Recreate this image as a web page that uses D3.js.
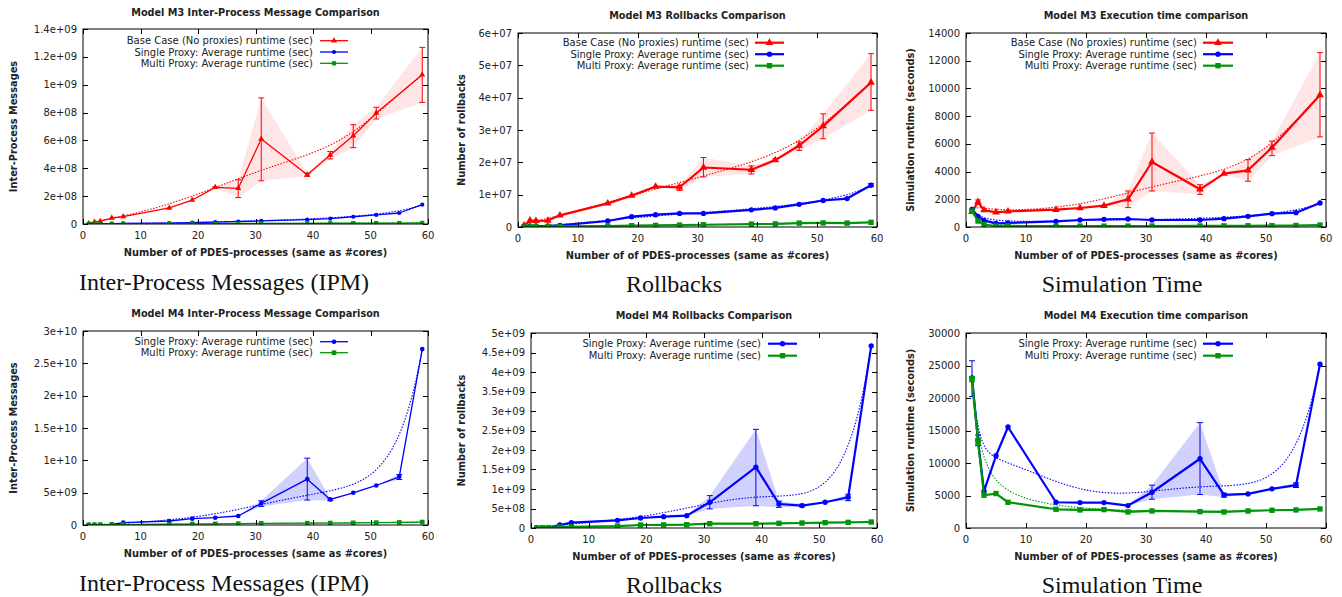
<!DOCTYPE html>
<html>
<head>
<meta charset="utf-8">
<script src="https://cdn.jsdelivr.net/npm/d3@7"></script>
<style>
body { margin: 0; background: #fff; }
svg { display: block; }
text { font-family: "DejaVu Sans", sans-serif; fill: #222; }
.caption { font-family: "Liberation Serif", serif; fill: #111; }
</style>
</head>
<body>
<svg id="chart" width="1342" height="597"></svg>
<script>
// shared x values (number of PDES processes)
var cores = [1, 2, 3, 5, 7, 15, 19, 23, 27, 31, 39, 43, 47, 51, 55, 59]
var xTicks = [0, 10, 20, 30, 40, 50, 60]

var baseName = "Base Case (No proxies) runtime (sec)"
var singleName = "Single Proxy: Average runtime (sec)"
var multiName = "Multi Proxy: Average runtime (sec)"

// Model M3 - inter-process messages
var m3IpmBase = [4e6, 1.5e7, 2e7, 4.3e7, 5.3e7, 1.15e8, 1.72e8, 2.63e8, 2.56e8, 6.1e8, 3.54e8, 4.95e8, 6.34e8, 7.97e8, null, 1.072e9]
var m3IpmBaseLo = [null, null, null, null, null, null, null, 2.6e8, 1.9e8, 3.1e8, 3.42e8, 4.67e8, 5.48e8, 7.54e8, null, 8.73e8]
var m3IpmBaseHi = [null, null, null, null, null, null, null, 2.66e8, 3.18e8, 9.05e8, 3.64e8, 5.2e8, 7.13e8, 8.38e8, null, 1.268e9]
var m3IpmSingle = [1e6, 1.5e6, 2e6, 3e6, 4e6, 7e6, 1e7, 1.4e7, 1.8e7, 2.2e7, 3.1e7, 3.8e7, 5.2e7, 6.5e7, 7.9e7, 1.39e8]
var m3IpmMulti = [5e5, 6e5, 7e5, 1e6, 1.2e6, 2e6, 2.5e6, 3e6, 3.5e6, 4e6, 5e6, 5.5e6, 6e6, 6.5e6, 7e6, 8e6]
var m3IpmTicks = [0, 2e8, 4e8, 6e8, 8e8, 1e9, 1.2e9, 1.4e9]
var m3IpmTickLabels = ["0", "2e+08", "4e+08", "6e+08", "8e+08", "1e+09", "1.2e+09", "1.4e+09"]

// Model M3 - rollbacks
var m3RbBase = [5e5, 2.0e6, 1.9e6, 2.0e6, 3.6e6, 7.3e6, 9.7e6, 1.25e7, 1.23e7, 1.84e7, 1.77e7, 2.07e7, 2.52e7, 3.12e7, null, 4.47e7]
var m3RbBaseLo = [null, null, null, null, null, null, null, null, 1.13e7, 1.55e7, 1.64e7, 2.03e7, 2.37e7, 2.73e7, null, 3.61e7]
var m3RbBaseHi = [null, null, null, null, null, null, null, null, 1.29e7, 2.15e7, 1.89e7, 2.11e7, 2.63e7, 3.5e7, null, 5.36e7]
var m3RbSingle = [1e5, 3e5, 3e5, 3e5, 5e5, 1.85e6, 3.2e6, 3.8e6, 4.2e6, 4.2e6, 5.3e6, 5.9e6, 7.0e6, 8.2e6, 8.8e6, 1.29e7]
var m3RbSingleLo = [null, null, null, null, null, null, null, null, null, null, null, null, null, null, null, 1.25e7]
var m3RbSingleHi = [null, null, null, null, null, null, null, null, null, null, null, null, null, null, null, 1.34e7]
var m3RbMulti = [0, 5e4, 1e5, 1e5, 2e5, 3e5, 4e5, 5e5, 6e5, 7e5, 9e5, 9.5e5, 1.2e6, 1.25e6, 1.2e6, 1.45e6]
var m3RbTicks = [0, 1e7, 2e7, 3e7, 4e7, 5e7, 6e7]
var m3RbTickLabels = ["0", "1e+07", "2e+07", "3e+07", "4e+07", "5e+07", "6e+07"]

// Model M3 - execution time
var m3TimeBase = [1100, 1800, 1220, 1060, 1130, 1250, 1370, 1540, 2000, 4690, 2720, 3850, 4090, 5730, null, 9530]
var m3TimeBaseLo = [null, 1650, null, null, null, null, null, null, 1400, 2600, 2360, null, 3300, 5150, null, 6500]
var m3TimeBaseHi = [null, 1950, null, null, null, null, null, null, 2600, 6780, 3050, null, 4860, 6200, null, 12580]
var m3TimeSingle = [1270, 770, 480, 265, 290, 410, 505, 553, 577, 505, 505, 600, 770, 960, 1034, 1730]
var m3TimeMulti = [1150, 430, 170, 70, 70, 60, 60, 60, 65, 70, 75, 80, 90, 100, 110, 140]
var m3TimeTicks = [0, 2000, 4000, 6000, 8000, 10000, 12000, 14000]
var m3TimeTickLabels = ["0", "2000", "4000", "6000", "8000", "10000", "12000", "14000"]

// Model M4 - inter-process messages
var m4IpmSingle = [1e7, 2e7, 3e7, 1e8, 3.6e8, 6.2e8, 9.8e8, 1.13e9, 1.39e9, 3.34e9, 7.09e9, 3.96e9, 4.98e9, 6.11e9, 7.45e9, 2.72e10]
var m4IpmSingleLo = [null, null, null, null, null, null, null, null, null, 2.88e9, 3.85e9, 3.75e9, null, null, 7.04e9, null]
var m4IpmSingleHi = [null, null, null, null, null, null, null, null, null, 3.75e9, 1.033e10, 4.1e9, null, null, 7.8e9, null]
var m4IpmMulti = [2e7, 3e7, 4e7, 5e7, 7e7, 1.2e8, 1.5e8, 1.7e8, 2e8, 2.5e8, 2.8e8, 3e8, 3.3e8, 3.7e8, 4e8, 4.6e8]
var m4IpmTicks = [0, 5e9, 1e10, 1.5e10, 2e10, 2.5e10, 3e10]
var m4IpmTickLabels = ["0", "5e+09", "1e+10", "1.5e+10", "2e+10", "2.5e+10", "3e+10"]

// Model M4 - rollbacks
var m4RbSingle = [5e6, 1e7, 1e7, 7.7e7, 1.37e8, 1.97e8, 2.57e8, 2.9e8, 3.17e8, 6.6e8, 1.56e9, 6.16e8, 5.74e8, 6.6e8, 7.88e8, 4.67e9]
var m4RbSingleLo = [null, null, null, null, null, null, null, null, null, 4.9e8, 5.7e8, 5.3e8, 5.4e8, null, 7.0e8, null]
var m4RbSingleHi = [null, null, null, null, null, null, null, null, null, 8.3e8, 2.53e9, 6.9e8, 6.1e8, null, 8.65e8, null]
var m4RbMulti = [5e6, 8e6, 1e7, 2e7, 3e7, 5e7, 7.7e7, 8e7, 8.5e7, 1.1e8, 1.1e8, 1.2e8, 1.28e8, 1.37e8, 1.45e8, 1.54e8]
var m4RbTicks = [0, 5e8, 1e9, 1.5e9, 2e9, 2.5e9, 3e9, 3.5e9, 4e9, 4.5e9, 5e9]
var m4RbTickLabels = ["0", "5e+08", "1e+09", "1.5e+09", "2e+09", "2.5e+09", "3e+09", "3.5e+09", "4e+09", "4.5e+09", "5e+09"]

// Model M4 - execution time
var m4TimeSingle = [23100, 13530, 5660, 11110, 15540, 3960, 3910, 3910, 3450, 5500, 10650, 5090, 5250, 6020, 6590, 25210]
var m4TimeSingleLo = [20220, 12650, null, null, null, null, null, null, null, 4430, 5150, 4750, null, null, 6230, null]
var m4TimeSingleHi = [25730, 14300, null, null, null, null, null, null, null, 6590, 16210, 5350, null, null, 6950, null]
var m4TimeMulti = [22900, 13280, 5040, 5300, 3960, 2880, 2780, 2830, 2470, 2620, 2520, 2470, 2620, 2730, 2780, 2930]
var m4TimeMultiLo = [22490, 12800, null, null, null, null, null, null, null, null, null, null, null, null, null, null]
var m4TimeMultiHi = [23300, 13800, null, null, null, null, null, null, null, null, null, null, null, null, null, null]
var m4TimeTicks = [0, 5000, 10000, 15000, 20000, 25000, 30000]
var m4TimeTickLabels = ["0", "5000", "10000", "15000", "20000", "25000", "30000"]

var RED = "#ff0000", BLUE = "#0000ff", GREEN = "#00960a"
var FILL = { red: "rgba(255,0,0,0.10)", blue: "rgba(0,0,255,0.18)", green: "rgba(0,150,10,0.15)" }

function base(values, lo, hi) { return { name: baseName, color: RED, fill: FILL.red, shape: d3.symbolTriangle, values: values, lo: lo, hi: hi } }
function single(values, lo, hi) { return { name: singleName, color: BLUE, fill: FILL.blue, shape: d3.symbolCircle, values: values, lo: lo, hi: hi } }
function multi(values, lo, hi) { return { name: multiName, color: GREEN, fill: FILL.green, shape: d3.symbolSquare, values: values, lo: lo, hi: hi } }

var panels = [
  {
    title: "Model M3 Inter-Process Message Comparison", ylabel: "Inter-Process Messages", caption: "Inter-Process Messages (IPM)",
    box: [83, 428, 29, 224], yTicks: m3IpmTicks, yLabels: m3IpmTickLabels,
    series: [base(m3IpmBase, m3IpmBaseLo, m3IpmBaseHi), single(m3IpmSingle), multi(m3IpmMulti)],
    lw: 1.3, ms: 1, legend: [313, 40.7, 11.3, 320, 348],
    titleY: 16, xlabelY: 256, ylabelX: 14, captionX: 224, captionY: 290
  },
  {
    title: "Model M3 Rollbacks Comparison", ylabel: "Number of rollbacks", caption: "Rollbacks",
    box: [518, 877, 33, 227], yTicks: m3RbTicks, yLabels: m3RbTickLabels,
    series: [base(m3RbBase, m3RbBaseLo, m3RbBaseHi), single(m3RbSingle, m3RbSingleLo, m3RbSingleHi), multi(m3RbMulti)],
    lw: 2.2, ms: 1.6, legend: [749, 42.7, 11.5, 755, 784],
    titleY: 19, xlabelY: 259, ylabelX: 462, captionX: 674, captionY: 292
  },
  {
    title: "Model M3 Execution time comparison", ylabel: "Simulation runtime (seconds)", caption: "Simulation Time",
    box: [966, 1326, 33, 227], yTicks: m3TimeTicks, yLabels: m3TimeTickLabels,
    series: [base(m3TimeBase, m3TimeBaseLo, m3TimeBaseHi), single(m3TimeSingle), multi(m3TimeMulti)],
    lw: 2.2, ms: 1.6, legend: [1197, 42.7, 11.5, 1203, 1233],
    titleY: 19, xlabelY: 259, ylabelX: 911, captionX: 1122, captionY: 292
  },
  {
    title: "Model M4 Inter-Process Message Comparison", ylabel: "Inter-Process Messages", caption: "Inter-Process Messages (IPM)",
    box: [83, 428, 331, 525], yTicks: m4IpmTicks, yLabels: m4IpmTickLabels,
    series: [single(m4IpmSingle, m4IpmSingleLo, m4IpmSingleHi), multi(m4IpmMulti)],
    lw: 1.3, ms: 1.2, legend: [313, 341.7, 11, 320, 348],
    titleY: 317, xlabelY: 557, ylabelX: 14, captionX: 224, captionY: 591
  },
  {
    title: "Model M4 Rollbacks Comparison", ylabel: "Number of rollbacks", caption: "Rollbacks",
    box: [531, 877, 333, 528], yTicks: m4RbTicks, yLabels: m4RbTickLabels,
    series: [single(m4RbSingle, m4RbSingleLo, m4RbSingleHi), multi(m4RbMulti)],
    lw: 2.2, ms: 1.6, legend: [761, 343.7, 12, 768, 797],
    titleY: 319, xlabelY: 560, ylabelX: 462, captionX: 674, captionY: 593
  },
  {
    title: "Model M4 Execution time comparison", ylabel: "Simulation runtime (seconds)", caption: "Simulation Time",
    box: [966, 1326, 333, 528], yTicks: m4TimeTicks, yLabels: m4TimeTickLabels,
    series: [single(m4TimeSingle, m4TimeSingleLo, m4TimeSingleHi), multi(m4TimeMulti, m4TimeMultiLo, m4TimeMultiHi)],
    lw: 2.2, ms: 1.6, legend: [1197, 343.7, 12, 1203, 1233],
    titleY: 319, xlabelY: 560, ylabelX: 911, captionX: 1122, captionY: 593
  }
]

// gnuplot-style "smooth bezier": every data point is a control point
function bezier(pts, n) {
  var m = pts.length - 1, out = []
  for (var s = 0; s <= n; s++) {
    var t = s / n
    var q = pts.map(function (p) { return [p[0], p[1]] })
    for (var k = 1; k <= m; k++) {
      for (var i = 0; i <= m - k; i++) {
        q[i][0] = (1 - t) * q[i][0] + t * q[i + 1][0]
        q[i][1] = (1 - t) * q[i][1] + t * q[i + 1][1]
      }
    }
    out.push(q[0])
  }
  return out
}

var svg = d3.select("#chart")

panels.forEach(function (p) {
  var x0 = p.box[0], x1 = p.box[1], y0 = p.box[2], y1 = p.box[3]
  var x = d3.scaleLinear().domain([0, 60]).range([x0, x1])
  var y = d3.scaleLinear().domain([0, p.yTicks[p.yTicks.length - 1]]).range([y1, y0])
  var g = svg.append("g")

  var clipId = "clip" + x0 + "_" + y0
  g.append("clipPath").attr("id", clipId)
    .append("rect").attr("x", x0).attr("y", y0).attr("width", x1 - x0).attr("height", y1 - y0)

  var plot = g.append("g").attr("clip-path", "url(#" + clipId + ")")

  var rows = p.series.map(function (s) {
    return cores.map(function (c, i) {
      var v = s.values[i]
      if (v == null) return null
      var lo = s.lo && s.lo[i] != null ? s.lo[i] : null
      var hi = s.hi && s.hi[i] != null ? s.hi[i] : null
      return { x: c, y: v, lo: lo, hi: hi }
    }).filter(function (d) { return d })
  })

  // bands
  p.series.forEach(function (s, k) {
    var area = d3.area()
      .x(function (d) { return x(d.x) })
      .y0(function (d) { return y(d.lo != null ? d.lo : d.y) })
      .y1(function (d) { return y(d.hi != null ? d.hi : d.y) })
    plot.append("path").datum(rows[k]).attr("d", area).attr("fill", s.fill)
  })

  // bezier trend
  p.series.forEach(function (s, k) {
    var curve = bezier(rows[k].map(function (d) { return [d.x, d.y] }), 300)
    plot.append("path").datum(curve)
      .attr("d", d3.line().x(function (d) { return x(d[0]) }).y(function (d) { return y(d[1]) }))
      .attr("fill", "none").attr("stroke", s.color).attr("stroke-width", 1.1)
      .attr("stroke-dasharray", "1.5,1.5")
  })

  // lines, error bars, markers
  p.series.forEach(function (s, k) {
    var line = d3.line().x(function (d) { return x(d.x) }).y(function (d) { return y(d.y) })
    plot.append("path").datum(rows[k]).attr("d", line)
      .attr("fill", "none").attr("stroke", s.color).attr("stroke-width", p.lw)
      .attr("stroke-linejoin", "round")

    var bars = rows[k].filter(function (d) { return d.lo != null })
    var eb = plot.append("g").attr("stroke", s.color).attr("stroke-width", 1)
    bars.forEach(function (d) {
      var cx = x(d.x)
      eb.append("line").attr("x1", cx).attr("x2", cx).attr("y1", y(d.lo)).attr("y2", y(d.hi))
      eb.append("line").attr("x1", cx - 3).attr("x2", cx + 3).attr("y1", y(d.lo)).attr("y2", y(d.lo))
      eb.append("line").attr("x1", cx - 3).attr("x2", cx + 3).attr("y1", y(d.hi)).attr("y2", y(d.hi))
    })

    var size = (s.shape === d3.symbolSquare ? 18 : s.shape === d3.symbolTriangle ? 16 : 14) * p.ms
    plot.selectAll(null).data(rows[k]).enter().append("path")
      .attr("d", d3.symbol().type(s.shape).size(size))
      .attr("transform", function (d) { return "translate(" + x(d.x) + "," + y(d.y) + ")" })
      .attr("fill", s.color)
  })

  // frame + inward ticks on all sides
  g.append("rect").attr("x", x0).attr("y", y0).attr("width", x1 - x0).attr("height", y1 - y0)
    .attr("fill", "none").attr("stroke", "#000").attr("stroke-width", 1)

  var tk = g.append("g").attr("stroke", "#000").attr("stroke-width", 1)
  p.yTicks.forEach(function (t, i) {
    var ty = Math.round(y(t)) + 0.5
    tk.append("line").attr("x1", x0).attr("x2", x0 + 5).attr("y1", ty).attr("y2", ty)
    tk.append("line").attr("x1", x1 - 5).attr("x2", x1).attr("y1", ty).attr("y2", ty)
    g.append("text").attr("x", x0 - 6).attr("y", y(t) + 3.6).attr("text-anchor", "end")
      .style("font-size", "10px").text(p.yLabels[i])
  })
  xTicks.forEach(function (t) {
    var tx = Math.round(x(t)) + 0.5
    tk.append("line").attr("x1", tx).attr("x2", tx).attr("y1", y1 - 5).attr("y2", y1)
    tk.append("line").attr("x1", tx).attr("x2", tx).attr("y1", y0).attr("y2", y0 + 5)
    g.append("text").attr("x", x(t)).attr("y", y1 + 15).attr("text-anchor", "middle")
      .style("font-size", "10px").text(t)
  })

  // texts
  var cx = (x0 + x1) / 2
  g.append("text").attr("x", cx).attr("y", p.titleY).attr("text-anchor", "middle")
    .style("font-size", "9.7px").style("font-weight", "bold").text(p.title)
  g.append("text").attr("x", cx).attr("y", p.xlabelY).attr("text-anchor", "middle")
    .style("font-size", "9.8px").style("font-weight", "bold").text("Number of of PDES-processes (same as #cores)")
  g.append("text").attr("transform", "translate(" + (p.ylabelX + 3) + "," + ((y0 + y1) / 2) + ") rotate(-90)")
    .attr("text-anchor", "middle").style("font-size", "9.8px").style("font-weight", "bold").text(p.ylabel)
  g.append("text").attr("class", "caption").attr("x", p.captionX).attr("y", p.captionY)
    .attr("text-anchor", "middle").style("font-size", "24px").text(p.caption)

  // legend
  var L = p.legend
  p.series.forEach(function (s, k) {
    var ly = L[1] + k * L[2]
    g.append("text").attr("x", L[0]).attr("y", ly + 3.5).attr("text-anchor", "end")
      .style("font-size", "10px").text(s.name)
    g.append("line").attr("x1", L[3]).attr("x2", L[4]).attr("y1", ly).attr("y2", ly)
      .attr("stroke", s.color).attr("stroke-width", p.lw)
    var size = (s.shape === d3.symbolSquare ? 18 : s.shape === d3.symbolTriangle ? 16 : 14) * p.ms
    g.append("path").attr("d", d3.symbol().type(s.shape).size(size))
      .attr("transform", "translate(" + ((L[3] + L[4]) / 2) + "," + ly + ")").attr("fill", s.color)
  })
})
</script>
</body>
</html>
